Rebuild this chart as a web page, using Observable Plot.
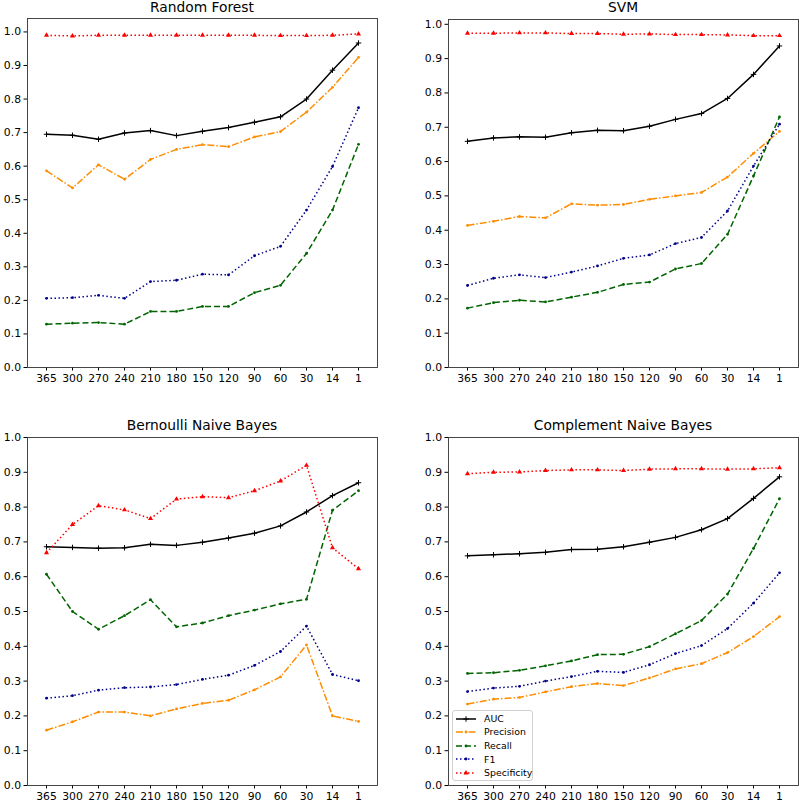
<!DOCTYPE html>
<html><head><meta charset="utf-8">
<script src="https://cdn.jsdelivr.net/npm/d3@7"></script>
<script src="https://cdn.jsdelivr.net/npm/@observablehq/plot@0.6"></script>
<style>
body{margin:0;background:#fff;}
#wrap{position:relative;width:800px;height:804px;font-family:"DejaVu Sans",sans-serif;overflow:hidden;}
.panel{position:absolute;}
.title{position:absolute;font-size:13.8px;font-weight:normal;color:#000;white-space:nowrap;transform:translate(-50%,-50%);line-height:1;}
.legend{position:absolute;left:452px;top:710px;width:79px;height:69px;border:1px solid #d0d0d0;border-radius:3px;background:rgba(255,255,255,0.8);}
.legend .row{position:absolute;left:2px;height:13px;display:flex;align-items:center;}
.legend .row span{font-size:9.4px;line-height:1;color:#000;}
.legend svg{display:block;margin-right:7px;}
</style></head><body><div id="wrap"></div>
<script>
const days = ["365","300","270","240","210","180","150","120","90","60","30","14","1"];
const metrics = ["AUC","Precision","Recall","F1","Specificity"];
const colors = ["black","darkorange","darkgreen","darkblue","red"];
const dashes = ["none","7,2,1.5,2","6,3","1.5,2.5","1.5,2.5"];
const symbols = ["plus","circle","circle","circle","triangle"];
const models = ["Random Forest","SVM","Bernoulli Naive Bayes","Complement Naive Bayes"];
const yTicks = [0,0.1,0.2,0.3,0.4,0.5,0.6,0.7,0.8,0.9,1.0];

const rf_auc  = [0.695,0.692,0.680,0.699,0.706,0.691,0.704,0.715,0.731,0.747,0.800,0.886,0.967];
const rf_prec = [0.586,0.535,0.604,0.561,0.620,0.650,0.664,0.658,0.687,0.703,0.761,0.835,0.924];
const rf_rec  = [0.129,0.132,0.134,0.129,0.167,0.167,0.182,0.182,0.223,0.245,0.340,0.469,0.665];
const rf_f1   = [0.206,0.208,0.215,0.206,0.256,0.260,0.278,0.276,0.333,0.361,0.469,0.599,0.774];
const rf_spec = [0.990,0.988,0.990,0.990,0.990,0.990,0.990,0.990,0.990,0.989,0.989,0.990,0.994];

const svm_auc  = [0.659,0.669,0.672,0.671,0.684,0.691,0.690,0.703,0.723,0.740,0.784,0.854,0.937];
const svm_prec = [0.414,0.426,0.440,0.436,0.477,0.473,0.475,0.490,0.500,0.510,0.555,0.624,0.688];
const svm_rec  = [0.173,0.189,0.196,0.191,0.205,0.219,0.242,0.249,0.287,0.303,0.388,0.558,0.730];
const svm_f1   = [0.239,0.260,0.270,0.262,0.278,0.296,0.318,0.328,0.361,0.379,0.456,0.587,0.709];
const svm_spec = [0.974,0.974,0.975,0.975,0.973,0.973,0.971,0.972,0.970,0.970,0.969,0.967,0.967];

const bnb_auc  = [0.686,0.684,0.682,0.683,0.693,0.690,0.699,0.711,0.725,0.746,0.786,0.833,0.870];
const bnb_prec = [0.159,0.183,0.211,0.211,0.200,0.220,0.236,0.245,0.275,0.312,0.404,0.200,0.184];
const bnb_rec  = [0.607,0.500,0.449,0.488,0.534,0.456,0.467,0.488,0.504,0.522,0.535,0.791,0.847];
const bnb_f1   = [0.251,0.258,0.274,0.281,0.283,0.290,0.305,0.317,0.345,0.385,0.458,0.319,0.301];
const bnb_spec = [0.669,0.750,0.804,0.792,0.767,0.823,0.830,0.827,0.847,0.875,0.920,0.683,0.623];

const cnb_auc  = [0.660,0.663,0.666,0.670,0.678,0.679,0.686,0.699,0.713,0.735,0.767,0.825,0.887];
const cnb_prec = [0.234,0.248,0.253,0.269,0.284,0.293,0.287,0.309,0.335,0.350,0.382,0.428,0.485];
const cnb_rec  = [0.322,0.324,0.331,0.344,0.358,0.376,0.377,0.399,0.436,0.474,0.550,0.681,0.824];
const cnb_f1   = [0.270,0.280,0.285,0.300,0.313,0.328,0.325,0.347,0.379,0.402,0.451,0.524,0.611];
const cnb_spec = [0.896,0.900,0.901,0.905,0.907,0.907,0.905,0.909,0.910,0.910,0.909,0.910,0.913];

const series = [
  [rf_auc, rf_prec, rf_rec, rf_f1, rf_spec],
  [svm_auc, svm_prec, svm_rec, svm_f1, svm_spec],
  [bnb_auc, bnb_prec, bnb_rec, bnb_f1, bnb_spec],
  [cnb_auc, cnb_prec, cnb_rec, cnb_f1, cnb_spec]
];
const yMax = [1.04, 1.014, 1.0, 1.0];

// layout: [left, top, width, height, mLeft, mRight, mTop, mBottom, titleY]
const layout = [
  [0,   0,   400, 400, 27, 23, 18, 33, 7.5],
  [400, 0,   400, 400, 48, 2,  19, 33, 7.5],
  [0,   400, 400, 404, 27, 23, 37, 19, 425.5],
  [400, 400, 400, 404, 48, 2,  37, 19, 425.5]
];

const symR = {plus: 1.9, circle: 1.4, triangle: 1.9};

const wrap = document.getElementById("wrap");

models.forEach((name, i) => {
  const [L, T, W, H, ml, mr, mt, mb, ty] = layout[i];
  const marks = [];
  metrics.forEach((m, k) => {
    const rows = days.map((d, j) => ({day: d, v: series[i][k][j]}));
    marks.push(Plot.line(rows, {x: "day", y: "v", stroke: colors[k], strokeWidth: 1.5,
      strokeDasharray: dashes[k], strokeLinecap: "butt", strokeLinejoin: "round"}));
    if (symbols[k] === "plus") {
      marks.push(Plot.dot(rows, {x: "day", y: "v", symbol: "plus", r: symR.plus, stroke: colors[k], strokeWidth: 1, fill: "none"}));
    } else if (symbols[k] === "triangle") {
      marks.push(Plot.dot(rows, {x: "day", y: "v", symbol: "triangle", r: symR.triangle, fill: colors[k], stroke: "none"}));
    } else {
      marks.push(Plot.dot(rows, {x: "day", y: "v", r: symR.circle, fill: colors[k], stroke: "none"}));
    }
  });
  marks.push(Plot.frame({stroke: "#333", strokeWidth: 0.9}));
  const svg = Plot.plot({
    width: W, height: H,
    marginLeft: ml, marginRight: mr, marginTop: mt, marginBottom: mb,
    style: {fontFamily: "DejaVu Sans, sans-serif", fontSize: "10.8px", color: "#000", background: "transparent", overflow: "visible"},
    x: {type: "point", domain: days, padding: 0.6, label: null, tickSize: 3.5, tickPadding: 3},
    y: {domain: [0, yMax[i]], ticks: yTicks, tickFormat: d3.format(".1f"), label: null, tickSize: 3.5, tickPadding: 3},
    marks
  });
  svg.classList.add("panel");
  svg.style.left = L + "px";
  svg.style.top = T + "px";
  wrap.appendChild(svg);

  const t = document.createElement("div");
  t.className = "title";
  t.textContent = name;
  t.style.left = (L + ml + (W - ml - mr) / 2) + "px";
  t.style.top = ty + "px";
  wrap.appendChild(t);
});

// legend
const leg = document.createElement("div");
leg.className = "legend";
metrics.forEach((m, k) => {
  const row = document.createElement("div");
  row.className = "row";
  row.style.top = (1 + k * 13.6) + "px";
  const ns = "http://www.w3.org/2000/svg";
  const s = document.createElementNS(ns, "svg");
  s.setAttribute("width", 22); s.setAttribute("height", 10);
  const ln = document.createElementNS(ns, "line");
  ln.setAttribute("x1", 1); ln.setAttribute("x2", 21); ln.setAttribute("y1", 5); ln.setAttribute("y2", 5);
  ln.setAttribute("stroke", colors[k]); ln.setAttribute("stroke-width", 1.5);
  if (dashes[k] !== "none") ln.setAttribute("stroke-dasharray", dashes[k]);
  s.appendChild(ln);
  const r = symR[symbols[k]];
  const sym = d3.symbol().type(symbols[k] === "plus" ? d3.symbolPlus : symbols[k] === "triangle" ? d3.symbolTriangle : d3.symbolCircle)
    .size(Math.PI * r * r);
  const p = document.createElementNS(ns, "path");
  p.setAttribute("d", sym());
  p.setAttribute("transform", "translate(11,5)");
  if (symbols[k] === "plus") { p.setAttribute("stroke", colors[k]); p.setAttribute("fill", "none"); }
  else p.setAttribute("fill", colors[k]);
  s.appendChild(p);
  row.appendChild(s);
  const tx = document.createElement("span");
  tx.textContent = m;
  row.appendChild(tx);
  leg.appendChild(row);
});
wrap.appendChild(leg);
</script>
</body></html>
